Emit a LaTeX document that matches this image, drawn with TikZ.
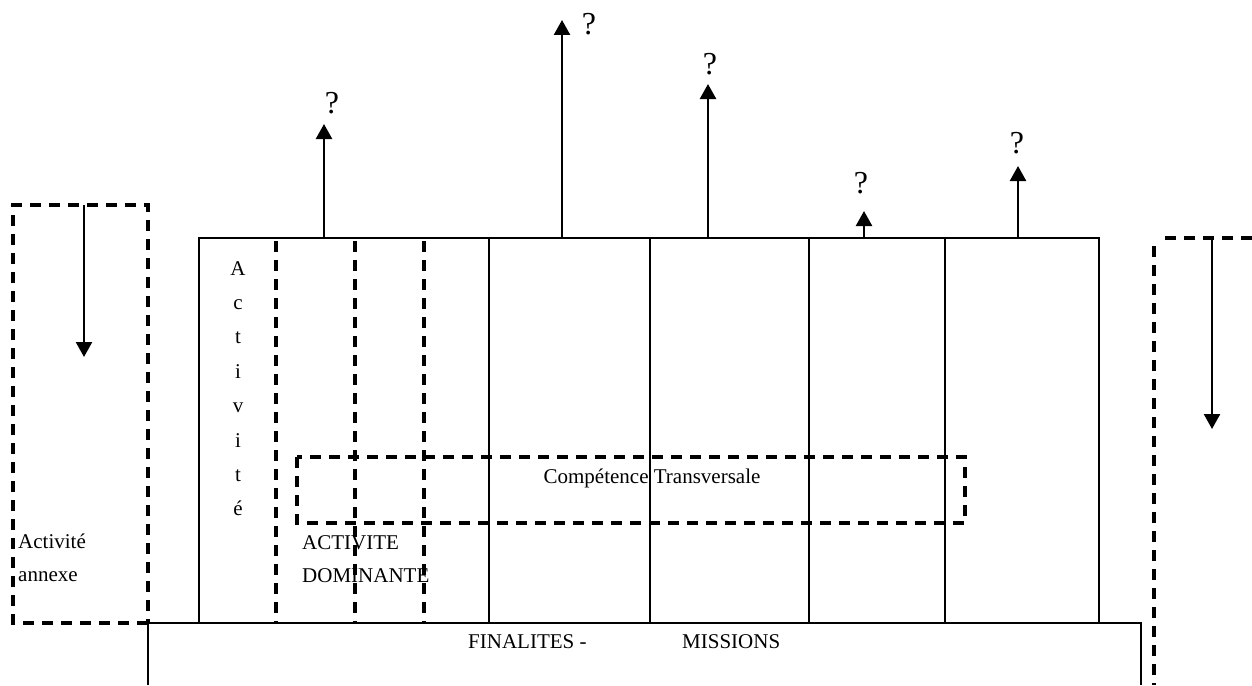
\documentclass[tikz,border=0pt]{standalone}
\usepackage{fontspec}
\setmainfont{Liberation Serif}
\usetikzlibrary{arrows.meta}
\tikzset{
  solidline/.style={line width=2.6pt},
  dashline/.style={line width=3.2pt,dash pattern=on 11pt off 8pt},
  vecline/.style={line width=2.4pt,-{Triangle[width=16pt,length=15pt]}},
  txt/.style={font=\fontsize{21}{25}\selectfont,inner sep=0pt,anchor=base west},
  letter/.style={font=\fontsize{21}{25}\selectfont,inner sep=0pt,anchor=base},
  qmark/.style={font=\fontsize{32}{36}\selectfont,inner sep=0pt},
}
\begin{document}
\begin{tikzpicture}[x=1pt,y=-1pt]
  \useasboundingbox (0,0) rectangle (1252,685);
  % Main box with solid columns
  \draw[solidline] (199,623) -- (199,238) -- (1099,238) -- (1099,623);
  \foreach \x in {489,650,809,945}
    \draw[solidline] (\x,238) -- (\x,623);
  % Dashed columns of the dominant activity
  \foreach \x in {276,355,424}
    \draw[dashline] (\x,241) -- (\x,623);
  % Bottom box (finalites)
  \draw[solidline] (148,685) -- (148,623) -- (1141,623) -- (1141,685);
  % Left dashed box (annex activity)
  \draw[dashline] (148,623) -- (13,623) -- (13,205) -- (148,205) -- (148,623);
  % Right dashed box, open on the right
  \draw[dashline] (1252,238) -- (1160,238);
  \draw[dashline] (1154,246) -- (1154,685);
  % Transversal competence box
  \draw[dashline] (297,457) rectangle (965,523);

  % Upward arrows with question marks
  \foreach \x/\tip/\qx/\qy [count=\i] in
    {324/124/332/103, 562/20/589/24, 708/84/710/64, 864/211/861/183, 1018/166/1017/143}{
    \coordinate (base\i) at (\x,239);
    \coordinate (tip\i) at (\x,\tip);
    \draw[vecline] (base\i) -- (tip\i);
    \node[qmark] (q\i) at (\qx,\qy) {?};
  }
  % Downward arrows
  \coordinate (lefttop) at (84,205);
  \coordinate (leftend) at (84,357);
  \draw[vecline] (lefttop) -- (leftend);
  \coordinate (righttop) at (1212,238);
  \coordinate (rightend) at (1212,429);
  \draw[vecline] (righttop) -- (rightend);

  % Labels
  \node[txt] (annexa) at (18,548) {Activité};
  \node[txt] (annexb) at (18,581) {annexe};
  \node[txt] (doma) at (302,549) {ACTIVITE};
  \node[txt] (domb) at (302,582) {DOMINANTE};
  \node[letter] (comp) at (652,483) {Compétence Transversale};
  \node[txt] (fin) at (468,648) {FINALITES -};
  \node[txt] (mis) at (682,648) {MISSIONS};
  % Vertical word
  \foreach \c [count=\i] in {A,c,t,i,v,i,t,é}
    \node[letter] (v\i) at (238,{275+34.4*(\i-1)}) {\c};
\end{tikzpicture}
\end{document}
